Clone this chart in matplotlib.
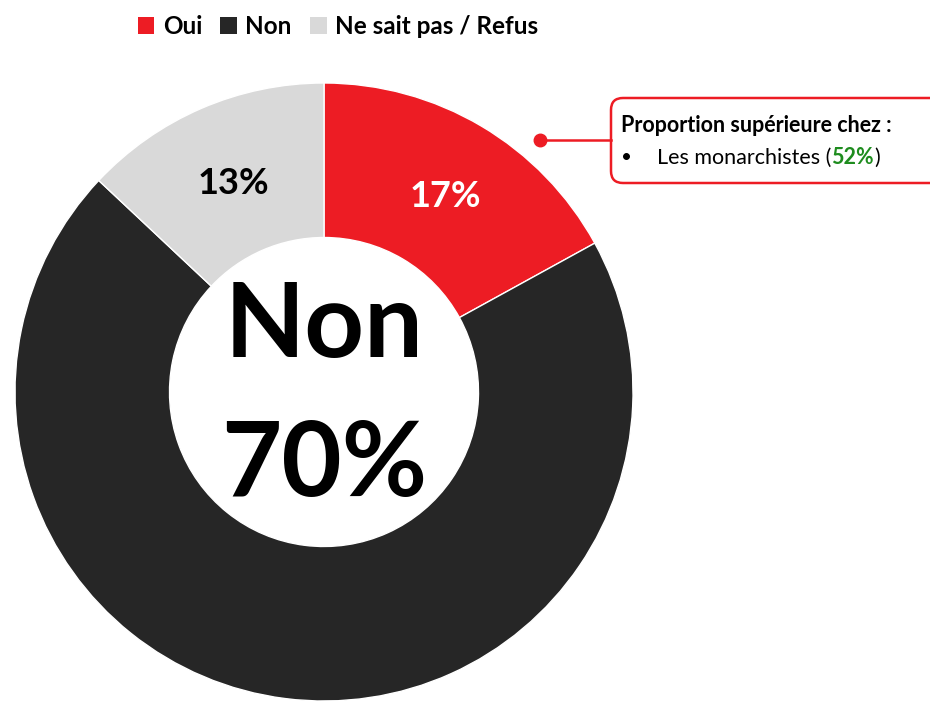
import matplotlib
matplotlib.use("Agg")
import matplotlib.pyplot as plt
from matplotlib.patches import FancyBboxPatch, Patch

categories = ["Oui", "Non", "Ne sait pas / Refus"]
values = [17, 70, 13]
colors = ["#ED1C24", "#262626", "#D9D9D9"]
label_colors = ["white", "black", "black"]
center_label = "Non"
center_value = "70%"
callout_title = "Proportion supérieure chez :"
callout_item = "Les monarchistes"
callout_value = "52%"

FONT = "Lato"
W, H = 930, 701
fig = plt.figure(figsize=(W / 100, H / 100), dpi=100)
ax = fig.add_axes([0, 0, 1, 1])

cx, cy, R = 324, H - 392, 309
wedges, texts = ax.pie(values, colors=colors, startangle=90, counterclock=False,
                       center=(cx, cy), radius=R,
                       wedgeprops=dict(width=R * 0.5, edgecolor="white", linewidth=1),
                       labels=[f"{v}%" for v in values], labeldistance=0.735,
                       textprops=dict(fontsize=26, fontweight="bold", family=FONT))
ax.set_xlim(0, W)
ax.set_ylim(0, H)
ax.set_aspect("equal")
ax.axis("off")
for t, c, v in zip(texts, label_colors, values):
    t.set_color(c)
    t.set_ha("center")
    t.set_va("center")
    if v == 70:
        t.set_visible(False)
x0, y0 = texts[0].get_position()
texts[0].set_position((x0 + 6, y0))

ax.text(cx, cy + 65, center_label, ha="center", va="center", fontsize=75,
        fontweight="bold", family=FONT, color="black")
ax.text(cx, cy - 74, center_value, ha="center", va="center", fontsize=75,
        fontweight="bold", family=FONT, color="black")

# legend
handles = [Patch(facecolor=c, edgecolor="none", label=l) for c, l in zip(colors, categories)]
fig.legend(handles=handles, loc="upper center", bbox_to_anchor=(338 / W, 1.01), ncol=3,
           frameon=False, prop=dict(family=FONT, weight="bold", size=17.5),
           handlelength=0.68, handleheight=0.68, handletextpad=0.35, columnspacing=0.75)

# callout
FS = 15.5
box = FancyBboxPatch((611, H - 183), 360, 85, boxstyle="round,pad=0,rounding_size=12",
                     facecolor="white", edgecolor="#ED1C24", linewidth=1.8, clip_on=False)
ax.add_patch(box)
ax.plot([540, 611], [H - 140, H - 140], color="#ED1C24", lw=1.8)
ax.plot([540], [H - 140], "o", color="#ED1C24", ms=9)
ax.text(621, H - 125, callout_title, ha="left", va="center", fontsize=FS,
        fontweight="bold", family=FONT, color="black")
ax.text(621, H - 158, "•", ha="left", va="center", fontsize=FS - 2, family=FONT)
fig.canvas.draw()
r = fig.canvas.get_renderer()
t1 = ax.text(657, H - 158, callout_item + " (", ha="left", va="center", fontsize=FS,
             family=FONT, color="black")
bb = t1.get_window_extent(r)
x2 = ax.transData.inverted().transform((bb.x1, 0))[0]
t2 = ax.text(x2, H - 158, callout_value, ha="left", va="center", fontsize=FS,
             fontweight="bold", family=FONT, color="#1E8C1E")
bb2 = t2.get_window_extent(r)
x3 = ax.transData.inverted().transform((bb2.x1, 0))[0]
ax.text(x3, H - 158, ")", ha="left", va="center", fontsize=FS, family=FONT, color="black")

fig.savefig("out.png", dpi=100)
